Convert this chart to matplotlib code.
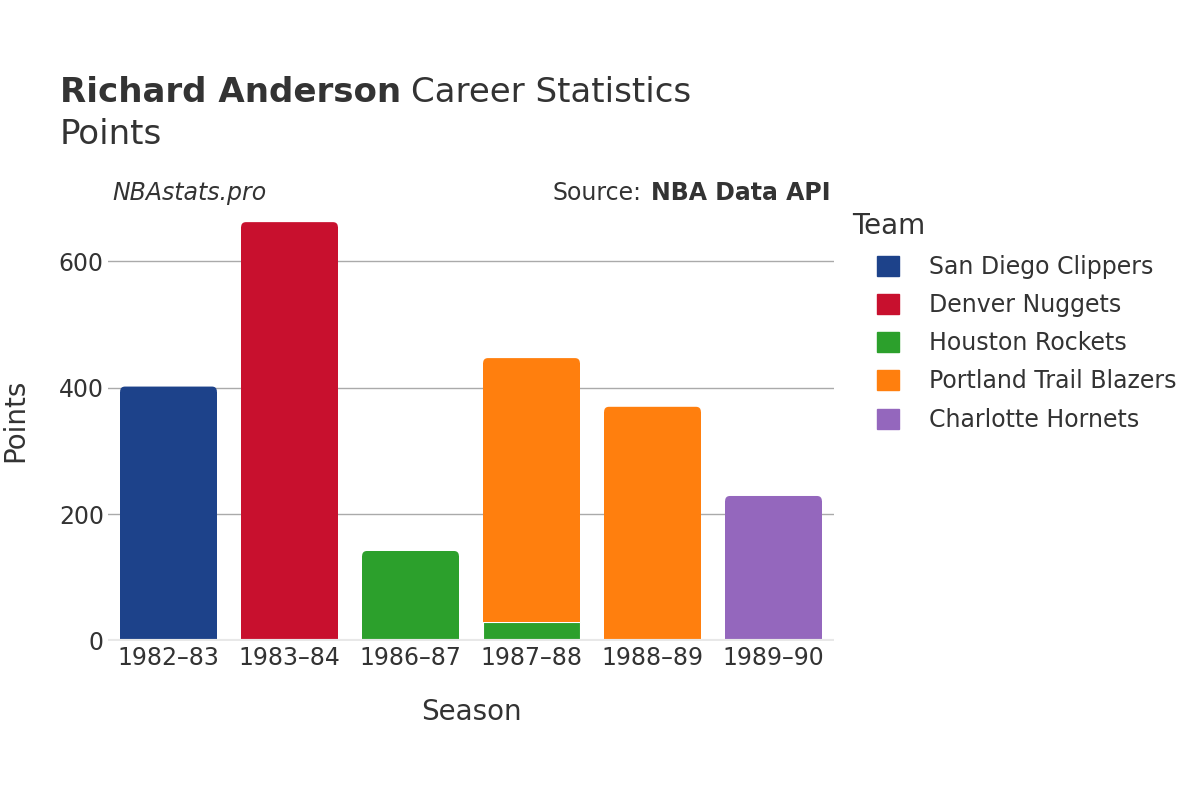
import matplotlib
matplotlib.use("Agg")
import matplotlib.pyplot as plt
from matplotlib.patches import Patch, FancyBboxPatch

# data
seasons = ["1982–83", "1983–84", "1986–87", "1987–88", "1988–89", "1989–90"]
teams = ["San Diego Clippers", "Denver Nuggets", "Houston Rockets",
         "Portland Trail Blazers", "Charlotte Hornets"]
team_colors = ["#1d428a", "#c8102e", "#2ca02c", "#ff7f0e", "#9467bd"]
# points per team per season (0 = did not play for that team)
san_diego = [402, 0, 0, 0, 0, 0]
denver = [0, 662, 0, 0, 0, 0]
houston = [0, 0, 142, 30, 0, 0]
portland = [0, 0, 0, 417, 370, 0]
charlotte = [0, 0, 0, 0, 0, 229]
series = [san_diego, denver, houston, portland, charlotte]

txt = "#333333"
plt.rcParams["font.family"] = ["DejaVu Sans"]

fig = plt.figure(figsize=(12, 8), dpi=100)
ax = fig.add_axes([0.09, 0.199, 0.605, 0.551])

x = list(range(len(seasons)))
totals = [sum(v) for v in zip(*series)]
bottom = [0] * len(seasons)
r_x = 0.04                      # corner radius in x units (~5 px)
aspect = (5 / 0.63) / r_x       # so the radius is ~5 px in y as well
for vals, col in zip(series, team_colors):
    xs = [xi for xi, v in zip(x, vals) if v > 0]
    hs = [v for v in vals if v > 0]
    bs = [b for b, v in zip(bottom, vals) if v > 0]
    bars = ax.bar(xs, hs, bottom=bs, width=0.8, color=col, edgecolor="white",
                  linewidth=0.8, zorder=3)
    for p, xi in zip(bars.patches, xs):
        px, py = p.get_xy()
        w, h = p.get_width(), p.get_height()
        if abs(py + h - totals[xi]) < 1e-6:
            # round the top corners of the topmost segment
            fb = FancyBboxPatch((px, py), w, h,
                                boxstyle=f"round,pad=0,rounding_size={r_x}",
                                mutation_aspect=aspect, facecolor=col,
                                linewidth=0, zorder=3)
            ax.add_patch(fb)
            p.set_height(max(h - r_x * aspect, 0))
            p.set_linewidth(0)
            p.set_zorder(3.5)
    bottom = [b + v for b, v in zip(bottom, vals)]

ax.set_xlim(-0.5, len(seasons) - 0.5)
ax.set_ylim(0, 697)
ax.set_yticks([0, 200, 400, 600])
ax.set_xticks(x)
ax.set_xticklabels(seasons)
ax.grid(axis="y", color="#aaaaaa", linewidth=1, zorder=0)
ax.axhline(0, color="#e8e8e8", linewidth=3, zorder=4)
for s in ax.spines.values():
    s.set_visible(False)
ax.tick_params(length=0, labelsize=17, labelcolor=txt, pad=4)
ax.tick_params(axis="y", pad=3)
ax.set_xlabel("Season", fontsize=20, color=txt, labelpad=20)
ax.set_ylabel("Points", fontsize=20, color=txt, labelpad=21)

# title: bold name followed by normal text
t1 = fig.text(0.05, 0.872, "Richard Anderson", fontsize=24.5, fontweight="bold",
              color=txt, va="baseline")
fig.canvas.draw()
bb = t1.get_window_extent()
fig.text(bb.x1 / 1200 + 0.008, 0.872, "Career Statistics", fontsize=24.5,
         color=txt, va="baseline")
fig.text(0.05, 0.82, "Points", fontsize=24.5, color=txt, va="baseline")

fig.text(0.094, 0.75, "NBAstats.pro", fontsize=17, style="italic",
         color=txt, va="baseline")
s2 = fig.text(0.692, 0.75, "NBA Data API", fontsize=17, fontweight="bold",
              color=txt, va="baseline", ha="right")
fig.canvas.draw()
bb2 = s2.get_window_extent()
fig.text(bb2.x0 / 1200 - 0.008, 0.75, "Source:", fontsize=17, color=txt,
         va="baseline", ha="right")

# legend: title placed on its own, entries indented below it
fig.text(0.71, 1 - 226 / 800, "Team", fontsize=20, color=txt, va="center")
handles = [Patch(facecolor=c, edgecolor=c, label=t)
           for t, c in zip(teams, team_colors)]
leg = fig.legend(handles=handles, loc="upper left",
                 bbox_to_anchor=(877 / 1200, 1 - 255 / 800), frameon=False,
                 fontsize=17, handlelength=0.93, handleheight=0.93,
                 handletextpad=1.27, labelspacing=0.6, borderaxespad=0,
                 borderpad=0)
for t in leg.get_texts():
    t.set_color(txt)

fig.savefig("out.png", dpi=100, facecolor="white")
